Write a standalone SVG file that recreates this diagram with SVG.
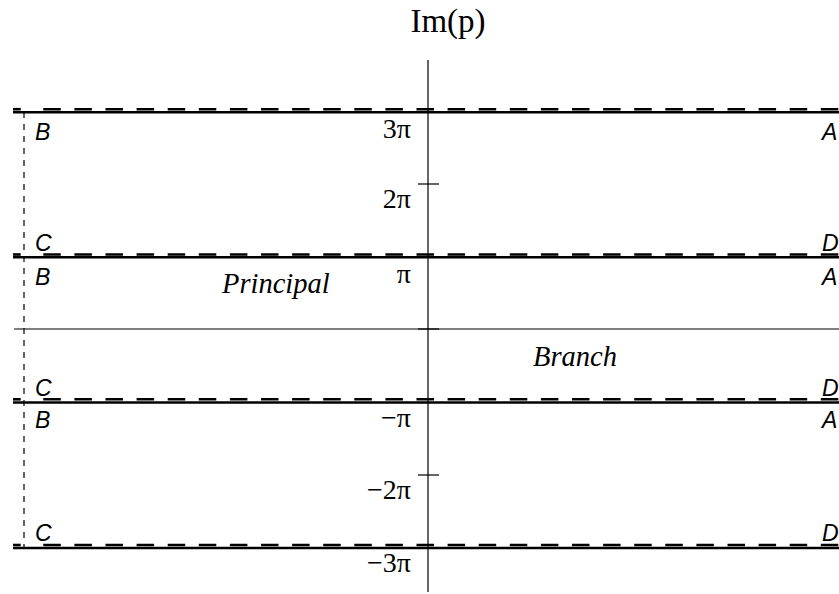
<svg xmlns="http://www.w3.org/2000/svg" width="839" height="594" viewBox="0 0 839 594">
<style>
.solid{stroke:#000;stroke-width:2.6;fill:none}
.dash{stroke:#000;stroke-width:2.6;fill:none;stroke-dasharray:17.5 13.6}
.thin{stroke:#000;stroke-width:1.2;fill:none}
.tick{stroke:#000;stroke-width:1.2;fill:none}
.vdash{stroke:#000;stroke-width:1.2;fill:none;stroke-dasharray:6 6}
.num{font-family:"Liberation Serif",serif;font-size:28px;text-anchor:end}
.lbl{font-family:"Liberation Sans",sans-serif;font-style:italic;font-size:23px}
.reg{font-family:"Liberation Serif",serif;font-style:italic;font-size:28.5px}
</style>
<rect width="839" height="594" fill="#fff"/>
<g id="connectors">
<line class="thin" x1="428" y1="60" x2="428" y2="592"/>
<line class="thin" x1="14" y1="329" x2="839" y2="329"/>
<line class="vdash" x1="24" y1="112" x2="24" y2="548"/>
<line class="solid" x1="13" y1="112.3" x2="839" y2="112.3"/>
<line class="solid" x1="13" y1="257.3" x2="839" y2="257.3"/>
<line class="solid" x1="13" y1="402.5" x2="839" y2="402.5"/>
<line class="solid" x1="13" y1="548" x2="839" y2="548"/>
<line class="solid" x1="13" y1="109.2" x2="20.7" y2="109.2"/>
<line class="dash" x1="43.3" y1="109.2" x2="839" y2="109.2"/>
<line class="solid" x1="13" y1="254.5" x2="20.7" y2="254.5"/>
<line class="dash" x1="43.3" y1="254.5" x2="839" y2="254.5"/>
<line class="solid" x1="13" y1="399.3" x2="20.7" y2="399.3"/>
<line class="dash" x1="43.3" y1="399.3" x2="839" y2="399.3"/>
<line class="solid" x1="13" y1="545" x2="20.7" y2="545"/>
<line class="dash" x1="43.3" y1="545" x2="839" y2="545"/>
<line class="tick" x1="418" y1="184" x2="439" y2="184"/>
<line class="tick" x1="418" y1="257" x2="439" y2="257"/>
<line class="tick" x1="418" y1="329" x2="439" y2="329"/>
<line class="tick" x1="418" y1="475" x2="439" y2="475"/>
</g>
<g id="axis-label"><text x="448" y="32" font-family="Liberation Serif,serif" font-size="33" text-anchor="middle">Im(p)</text></g>
<g id="ticks-labels">
<text class="num" x="411" y="138">3π</text>
<text class="num" x="411" y="208">2π</text>
<text class="num" x="411" y="283">π</text>
<text class="num" x="411" y="427">−π</text>
<text class="num" x="411" y="499">−2π</text>
<text class="num" x="411" y="572">−3π</text>
</g>
<g id="corner-labels">
<text class="lbl" x="35" y="140">B</text>
<text class="lbl" x="35" y="251">C</text>
<text class="lbl" x="35" y="285">B</text>
<text class="lbl" x="35" y="396">C</text>
<text class="lbl" x="35" y="428">B</text>
<text class="lbl" x="35" y="541">C</text>
<text class="lbl" x="822" y="140">A</text>
<text class="lbl" x="822" y="251">D</text>
<text class="lbl" x="822" y="285">A</text>
<text class="lbl" x="822" y="396">D</text>
<text class="lbl" x="822" y="428">A</text>
<text class="lbl" x="822" y="541">D</text>
</g>
<g id="region-principal"><text class="reg" x="222" y="293">Principal</text></g>
<g id="region-branch"><text class="reg" x="533" y="366">Branch</text></g>
</svg>
